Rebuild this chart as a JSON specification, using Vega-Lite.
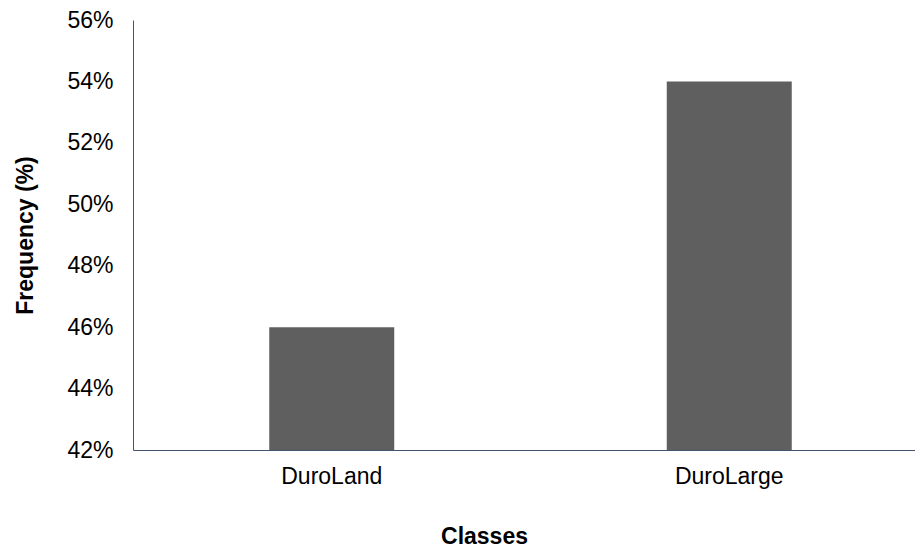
{
  "$schema": "https://vega.github.io/schema/vega-lite/v6.json",
  "autosize": "none",
  "width": 795,
  "height": 430,
  "padding": {"left": 133, "top": 20, "right": 0, "bottom": 100},
  "background": "white",
  "data": {"values": [
    {"Class": "DuroLand", "Frequency": 0.46},
    {"Class": "DuroLarge", "Frequency": 0.54}
  ]},
  "mark": {"type": "bar", "color": "#5f5f5f", "size": 125, "clip": true},
  "encoding": {
    "x": {
      "field": "Class", "type": "nominal", "sort": null,
      "scale": {"paddingInner": 0, "paddingOuter": 0},
      "axis": {
        "title": "Classes", "labelAngle": 0, "ticks": false, "zindex": 1,
        "domainColor": "#46546E", "domainWidth": 1,
        "labelFont": "Liberation Sans", "labelFontSize": 23, "labelColor": "black", "labelPadding": 15,
        "titleFont": "Liberation Sans", "titleFontSize": 23, "titleFontWeight": "bold", "titleColor": "black",
        "titleX": 351, "titleY": 93, "titleBaseline": "alphabetic", "titleAnchor": null
      }
    },
    "y": {
      "field": "Frequency", "type": "quantitative",
      "scale": {"domain": [0.42, 0.56], "nice": false, "zero": false},
      "axis": {
        "title": "Frequency (%)", "format": ".0%", "values": [0.42, 0.44, 0.46, 0.48, 0.5, 0.52, 0.54, 0.56],
        "grid": false, "ticks": false, "zindex": 1,
        "domainColor": "#46546E", "domainWidth": 1,
        "labelFont": "Liberation Sans", "labelFontSize": 23, "labelColor": "black", "labelPadding": 20,
        "titleFont": "Liberation Sans", "titleFontSize": 23, "titleFontWeight": "bold", "titleColor": "black",
        "titleX": -101, "titleY": 215, "titleBaseline": "alphabetic", "titleAngle": -90, "titleAlign": "center"
      }
    }
  },
  "config": {"view": {"stroke": null}}
}
